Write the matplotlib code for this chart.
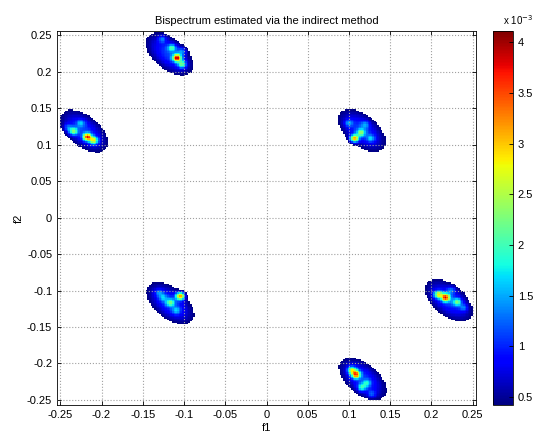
import numpy as np
import matplotlib
matplotlib.use("Agg")
import matplotlib.pyplot as plt

plt.rcParams['font.family'] = ['Liberation Sans', 'DejaVu Sans']

# ---- data (values in units of 1e-3) ----
blob_f1 = [-0.118, -0.222, 0.116, -0.117, 0.222, 0.117]
blob_f2 = [0.225, 0.119, 0.120, -0.118, -0.114, -0.222]
blob_amp = [1.1, 1.1, 1.1, 1.1, 1.1, 1.1]

hot_f1 = [-0.109, -0.115, -0.127, -0.103, -0.103,
          -0.218, -0.235, -0.210, -0.226, -0.242,
          0.107, 0.115, 0.100, 0.127, 0.120,
          -0.105, -0.117, -0.126, -0.110, -0.131,
          0.218, 0.209, 0.232, 0.225, 0.240,
          0.109, 0.104, 0.116, 0.122, 0.128]
hot_f2 = [0.220, 0.234, 0.246, 0.211, 0.229,
          0.111, 0.119, 0.106, 0.130, 0.124,
          0.109, 0.117, 0.130, 0.109, 0.128,
          -0.108, -0.117, -0.110, -0.128, -0.103,
          -0.110, -0.106, -0.116, -0.100, -0.124,
          -0.216, -0.210, -0.234, -0.228, -0.243]
hot_amp = [2.9, 1.2, 0.7, 1.4, 0.7,
           2.8, 1.5, 1.9, 0.7, 0.6,
           2.5, 1.3, 0.7, 0.8, 0.6,
           2.6, 1.2, 0.7, 0.7, 0.6,
           2.8, 1.9, 1.3, 0.7, 0.6,
           2.5, 1.7, 1.1, 0.8, 0.6]

cbar_ticks = [0.5, 1, 1.5, 2, 2.5, 3, 3.5, 4]
axis_ticks = [-0.25, -0.2, -0.15, -0.1, -0.05, 0, 0.05, 0.1, 0.15, 0.2, 0.25]
axis_ticklabels = ['-0.25', '-0.2', '-0.15', '-0.1', '-0.05', '0', '0.05', '0.1', '0.15', '0.2', '0.25']

vmin, vmax = 0.42, 4.11

# ---- build the field ----
g = np.linspace(-0.26, 0.26, 261)
X, Y = np.meshgrid(g, g)
Z = np.zeros_like(X)
c, s = np.cos(np.deg2rad(-45)), np.sin(np.deg2rad(-45))
for bx, by, ba in zip(blob_f1, blob_f2, blob_amp):
    dx, dy = X - bx, Y - by
    u = dx * c + dy * s
    v = -dx * s + dy * c
    Z += ba * np.exp(-0.5 * ((u / 0.026) ** 2 + (v / 0.0145) ** 2))
for hx, hy, ha in zip(hot_f1, hot_f2, hot_amp):
    Z += ha * np.exp(-0.5 * (((X - hx) ** 2 + (Y - hy) ** 2) / 0.0036 ** 2))

Zm = np.ma.masked_less(Z, vmin)

fig = plt.figure(figsize=(5.38, 4.32), dpi=100)
ax = fig.add_axes([57 / 538, 1 - 405 / 432, (476 - 57) / 538, (405 - 31) / 432])
ax.imshow(Zm, origin='lower', extent=[g[0], g[-1], g[0], g[-1]], cmap='jet',
          vmin=vmin, vmax=vmax, interpolation='nearest', aspect='auto')
ax.set_xlim(-0.254, 0.254)
ax.set_ylim(-0.257, 0.256)
ax.set_xticks(axis_ticks)
ax.set_xticklabels(axis_ticklabels)
ax.set_yticks(axis_ticks)
ax.set_yticklabels(axis_ticklabels)
ax.tick_params(direction='in', top=True, right=True, labelsize=8, length=3, width=0.6)
ax.grid(True, linestyle=':', color='#a0a0a0', linewidth=0.8)
ax.set_axisbelow(False)
for sp in ax.spines.values():
    sp.set_linewidth(0.6)
ax.set_xlabel('f1', fontsize=8, labelpad=2)
ax.set_ylabel('f2', fontsize=8, labelpad=2)
ax.set_title('Bispectrum estimated via the indirect method', fontsize=8, pad=5)

cax = fig.add_axes([493 / 538, 1 - 405 / 432, 20 / 538, (405 - 31) / 432])
sm = matplotlib.cm.ScalarMappable(norm=matplotlib.colors.Normalize(vmin, vmax), cmap='jet')
cb = fig.colorbar(sm, cax=cax)
cb.set_ticks(cbar_ticks)
cb.set_ticklabels(['0.5', '1', '1.5', '2', '2.5', '3', '3.5', '4'])
cax.tick_params(direction='in', labelsize=8, length=3, width=0.6)
cb.outline.set_linewidth(0.6)
cax.text(0.5, 1.01, r'x 10$^{-3}$', transform=cax.transAxes, fontsize=7, ha='left', va='bottom')

fig.savefig('out.png', dpi=100)
